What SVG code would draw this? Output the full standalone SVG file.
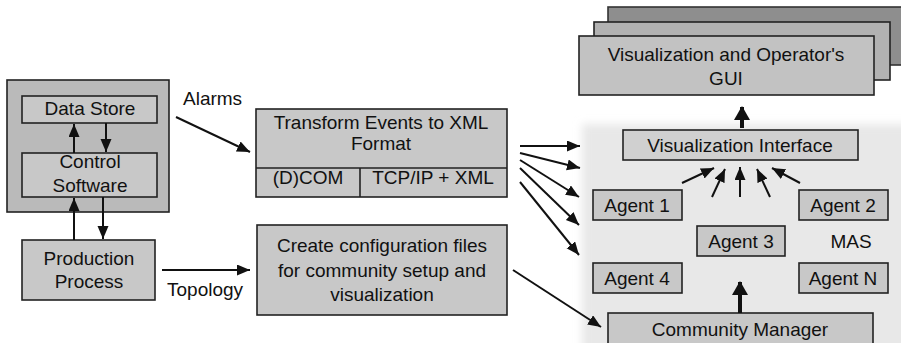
<svg xmlns="http://www.w3.org/2000/svg" width="901" height="343" viewBox="0 0 901 343">
<style>
text{font-family:"Liberation Sans",Arial,sans-serif;font-size:19px;fill:#111;text-anchor:middle}
.box{fill:#c8c8c8;stroke:#222;stroke-width:1.6}
.outer{fill:#bababa;stroke:#222;stroke-width:1.6}
.con{stroke:#111;stroke-width:2;fill:none;marker-end:url(#ah)}
.thick{stroke:#111;stroke-width:4;fill:none;marker-end:url(#big)}
.lbl{text-anchor:start}
</style>
<defs>
<marker id="ah" markerUnits="userSpaceOnUse" markerWidth="14" markerHeight="12" refX="13" refY="5.5" orient="auto">
<path d="M0,0 L13,5.5 L0,11 z" fill="#111"/>
</marker>
<marker id="big" markerUnits="userSpaceOnUse" markerWidth="16" markerHeight="16" refX="13" refY="8" orient="auto">
<path d="M0,0 L14,8 L0,16 z" fill="#111"/>
</marker>
<filter id="soft" x="-10%" y="-10%" width="120%" height="120%"><feGaussianBlur stdDeviation="4"/></filter>
</defs>
<rect id="mas-bg" x="582" y="124" width="330" height="230" fill="#e8e8e8" filter="url(#soft)"/>

<g id="plant">
<rect class="outer" x="7" y="80" width="162" height="132"/>
</g>
<g id="data-store">
<rect class="box" x="22" y="96" width="135" height="27"/>
<text x="90" y="115">Data Store</text>
</g>
<g id="control-software">
<rect class="box" x="22" y="153" width="135" height="44"/>
<text x="90" y="168">Control</text>
<text x="90" y="192">Software</text>
</g>
<g id="production-process">
<rect class="box" x="22" y="240" width="133" height="60"/>
<text x="89" y="265">Production</text>
<text x="89" y="288">Process</text>
</g>
<g id="transform">
<rect class="box" x="256" y="109" width="251" height="88"/>
<line x1="256" y1="168" x2="507" y2="168" stroke="#222" stroke-width="1.6"/>
<line x1="360" y1="168" x2="360" y2="197" stroke="#222" stroke-width="1.6"/>
<text x="381" y="129">Transform Events to XML</text>
<text x="381" y="150">Format</text>
<text x="308" y="184">(D)COM</text>
<text x="433" y="184">TCP/IP + XML</text>
</g>
<g id="config">
<rect class="box" x="257" y="225" width="250" height="90"/>
<text x="382" y="252">Create configuration files</text>
<text x="382" y="277">for community setup and</text>
<text x="382" y="301">visualization</text>
</g>
<g id="gui">
<rect x="608" y="7" width="300" height="58" fill="#8e8e8e" stroke="#333" stroke-width="1.6"/>
<rect x="594" y="22" width="296" height="58" fill="#b2b2b2" stroke="#222" stroke-width="1.6"/>
<rect x="579" y="36" width="295" height="59" fill="#c2c2c2" stroke="#222" stroke-width="1.6"/>
<text x="726" y="61">Visualization and Operator's</text>
<text x="726" y="85">GUI</text>
</g>
<g id="vis-interface">
<rect class="box" x="623" y="130" width="235" height="30" style="fill:#d0d0d0"/>
<text x="740" y="152">Visualization Interface</text>
</g>
<g id="agent-1">
<rect class="box" x="593" y="190" width="89" height="30"/>
<text x="637" y="212">Agent 1</text>
</g>
<g id="agent-2">
<rect class="box" x="799" y="190" width="89" height="30"/>
<text x="843" y="212">Agent 2</text>
</g>
<g id="agent-3">
<rect class="box" x="697" y="226" width="88" height="30"/>
<text x="741" y="248">Agent 3</text>
</g>
<g id="mas-label">
<text x="851" y="248">MAS</text>
</g>
<g id="agent-4">
<rect class="box" x="593" y="263" width="89" height="30"/>
<text x="637" y="285">Agent 4</text>
</g>
<g id="agent-n">
<rect class="box" x="799" y="263" width="89" height="30"/>
<text x="843" y="285">Agent N</text>
</g>
<g id="community-manager">
<rect class="box" x="608" y="313" width="265" height="40"/>
<text x="740" y="336">Community Manager</text>
</g>

<g id="connectors">
<line class="con" x1="74" y1="153" x2="74" y2="124"/>
<line class="con" x1="106" y1="123" x2="106" y2="152"/>
<line class="con" x1="74" y1="240" x2="74" y2="198"/>
<line class="con" x1="103" y1="197" x2="103" y2="239"/>
<line class="con" x1="176" y1="117" x2="250" y2="152"/>
<text class="lbl" x="183" y="105">Alarms</text>
<line class="con" x1="162" y1="270" x2="250" y2="270"/>
<text class="lbl" x="167" y="296">Topology</text>
<line class="con" x1="520" y1="146" x2="580" y2="146"/>
<line class="con" x1="520" y1="153" x2="580" y2="168"/>
<line class="con" x1="520" y1="160" x2="579" y2="197"/>
<line class="con" x1="520" y1="168" x2="579" y2="225"/>
<line class="con" x1="520" y1="182" x2="579" y2="255"/>
<line class="con" x1="513" y1="270" x2="601" y2="327"/>
<line class="con" x1="682" y1="183" x2="714" y2="168"/>
<line class="con" x1="712" y1="197" x2="725" y2="169"/>
<line class="con" x1="740" y1="197" x2="740" y2="167"/>
<line class="con" x1="770" y1="197" x2="757" y2="169"/>
<line class="con" x1="800" y1="183" x2="772" y2="168"/>
<line class="thick" x1="742" y1="128" x2="742" y2="107"/>
<line class="thick" x1="740" y1="313" x2="740" y2="282"/>
</g>
</svg>
